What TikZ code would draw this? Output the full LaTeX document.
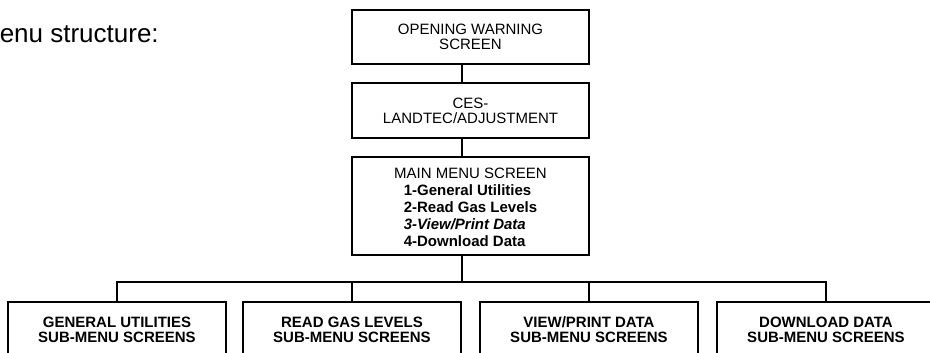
\documentclass[tikz,border=0pt]{standalone}
\usepackage{fontspec}
\setmainfont{Liberation Sans}
\usetikzlibrary{positioning}

\begin{document}
\begin{tikzpicture}[
    x=1pt, y=-1pt,
    font=\fontsize{15}{15}\selectfont,
    line width=1.5pt,
    screen/.style={draw, line width=1.5pt, minimum width=237pt, align=center, inner sep=0pt},
    submenu/.style={draw, line width=1.5pt, minimum width=218pt, minimum height=56pt,
      align=center, inner sep=0pt, font=\fontsize{15}{14.5}\selectfont\bfseries},
  ]
  \useasboundingbox (0,0) rectangle (930,353);
  \clip (0,0) rectangle (930,353);

  \node[anchor=base west, inner sep=0pt, font=\fontsize{26}{26}\selectfont] (heading) at (-1,43) {enu structure:};

  %% ---- top screens ---------------------------------------------------
  \node[screen, minimum height=54pt] (warn) at (470.5,37) {OPENING WARNING\\SCREEN};
  \node[screen, minimum height=55pt] (ces)  at (470.5,110.5) {CES-\\LANDTEC/ADJUSTMENT};
  \node[screen, minimum height=98pt, font=\fontsize{15}{17}\selectfont] (main) at (470.5,206)
    {\rule{0pt}{19pt}MAIN MENU SCREEN\\
     \begin{tabular}[t]{@{}l@{}}
       \bfseries 1-General Utilities\\
       \bfseries 2-Read Gas Levels\\
       \bfseries\itshape 3-View/Print Data\\
       \bfseries 4-Download Data
     \end{tabular}};

  \coordinate (spine) at (462,0);
  \coordinate (bus) at (462,282);
  \draw (warn.south -| spine) -- (ces.north -| spine);
  \draw (ces.south -| spine) -- (main.north -| spine);
  \draw (main.south -| spine) -- (bus);

  %% ---- sub-menus -----------------------------------------------------
  \foreach \x/\name/\txt in {117/gen/GENERAL UTILITIES, 352/gas/READ GAS LEVELS,
      589/view/{VIEW/PRINT DATA}, 826/down/DOWNLOAD DATA}
    \node[submenu, anchor=north] (\name) at (\x,301) {\txt\\SUB-MENU SCREENS};

  \draw (gen.north) |- (bus) -| (down.north);
  \draw (gas.north) -- (gas.north |- bus);
  \draw (view.north) -- (view.north |- bus);
\end{tikzpicture}
\end{document}
